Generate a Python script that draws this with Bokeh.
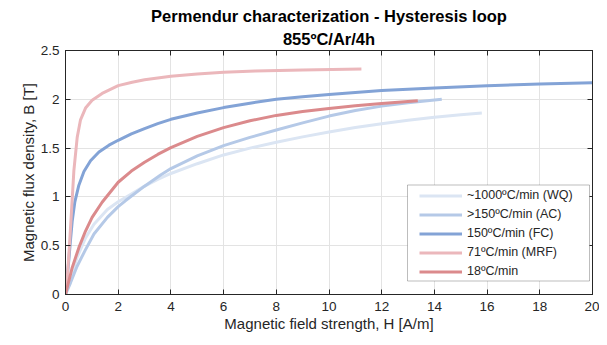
from bokeh.plotting import figure
from bokeh.models import Range1d, LinearAxis, Title, Legend, LegendItem, FixedTicker, BoxAnnotation
from bokeh.embed import file_html
from bokeh.resources import INLINE

# ---- data ----
h_wq = [0, 0.19, 0.44, 0.76, 1.08, 1.59, 2.0, 2.5, 3.0, 3.5, 4.0, 5.0, 6.0, 7.0, 8.0, 9.0, 10.0, 11.0, 12.0, 13.0, 14.0, 15.0, 15.8]
b_wq = [0, 0.17, 0.38, 0.58, 0.72, 0.87, 0.95, 1.03, 1.11, 1.18, 1.24, 1.34, 1.43, 1.50, 1.56, 1.615, 1.665, 1.71, 1.75, 1.785, 1.815, 1.842, 1.86]

h_ac = [0, 0.19, 0.44, 0.76, 1.08, 1.59, 2.0, 2.27, 3.0, 3.61, 4.0, 5.0, 6.0, 7.0, 8.0, 9.0, 10.0, 11.0, 12.0, 13.0, 14.28]
b_ac = [0, 0.12, 0.29, 0.46, 0.62, 0.79, 0.90, 0.96, 1.11, 1.225, 1.29, 1.42, 1.525, 1.61, 1.685, 1.758, 1.828, 1.885, 1.93, 1.965, 2.0]

h_fc = [0, 0.06, 0.128, 0.19, 0.254, 0.355, 0.507, 0.70, 0.95, 1.27, 1.65, 2.0, 2.5, 3.0, 3.5, 4.0, 5.0, 6.0, 7.0, 8.0, 9.0, 10.0, 12.0, 14.0, 16.0, 18.0, 20.0]
b_fc = [0, 0.17, 0.36, 0.56, 0.75, 0.95, 1.12, 1.26, 1.37, 1.46, 1.53, 1.58, 1.645, 1.70, 1.75, 1.795, 1.86, 1.915, 1.96, 2.0, 2.025, 2.05, 2.09, 2.115, 2.14, 2.157, 2.17]

h_mrf = [0, 0.08, 0.153, 0.229, 0.318, 0.444, 0.57, 0.76, 1.01, 1.39, 2.0, 2.53, 3.0, 4.0, 5.0, 6.0, 7.2, 9.0, 11.23]
b_mrf = [0, 0.22, 0.515, 0.86, 1.27, 1.61, 1.79, 1.91, 1.99, 2.06, 2.14, 2.175, 2.20, 2.237, 2.26, 2.276, 2.29, 2.30, 2.31]

h_18 = [0, 0.1, 0.254, 0.507, 0.76, 1.01, 1.39, 2.0, 2.5, 3.0, 3.5, 4.0, 5.0, 6.0, 7.0, 8.0, 9.0, 10.0, 11.0, 12.0, 13.37]
b_18 = [0, 0.11, 0.275, 0.48, 0.65, 0.79, 0.945, 1.15, 1.265, 1.355, 1.435, 1.505, 1.62, 1.71, 1.78, 1.835, 1.875, 1.905, 1.933, 1.957, 1.985]

labels = ["~1000ºC/min (WQ)", ">150ºC/min (AC)", "150ºC/min (FC)", "71ºC/min (MRF)", "18ºC/min"]
colors = ["#dbe5f3", "#b5c9e7", "#83a3d6", "#ebb7bb", "#db8a8c"]
series = [(h_wq, b_wq), (h_ac, b_ac), (h_fc, b_fc), (h_mrf, b_mrf), (h_18, b_18)]

x_ticks = [0, 2, 4, 6, 8, 10, 12, 14, 16, 18, 20]
y_ticks = [0, 0.5, 1, 1.5, 2, 2.5]

FONT = "Liberation Sans"
TXT = "#262626"

p = figure(width=599, height=337, output_backend="svg", toolbar_location=None,
           x_range=Range1d(0, 20), y_range=Range1d(0, 2.5),
           min_border_left=65, min_border_right=7, min_border_top=50, min_border_bottom=43)
p.title = None

p.xaxis.axis_label = "Magnetic field strength, H [A/m]"
p.yaxis.axis_label = "Magnetic flux density, B [T]"
for ax in (p.xaxis, p.yaxis):
    ax.axis_label_text_font = FONT
    ax.axis_label_text_font_size = "15px"
    ax.axis_label_text_font_style = "normal"
    ax.axis_label_text_color = TXT
    ax.major_label_text_font = FONT
    ax.major_label_text_font_size = "13.5px"
    ax.major_label_text_color = TXT
    ax.major_tick_in = 5
    ax.major_tick_out = 0
    ax.minor_tick_in = 0
    ax.minor_tick_out = 0
    ax.axis_line_color = TXT
    ax.major_tick_line_color = TXT
p.xaxis.ticker = FixedTicker(ticks=x_ticks)
p.yaxis.ticker = FixedTicker(ticks=y_ticks)
p.xaxis.axis_label_standoff = 1
p.yaxis.axis_label_standoff = 1
p.xaxis.major_label_standoff = 7
p.yaxis.major_label_standoff = 6

# top and right axes (ticks only)
top = LinearAxis(ticker=FixedTicker(ticks=x_ticks), major_label_text_font_size="0px",
                 major_tick_in=5, major_tick_out=0, minor_tick_in=0, minor_tick_out=0,
                 major_label_standoff=0, axis_line_color=TXT, major_tick_line_color=TXT)
right = LinearAxis(ticker=FixedTicker(ticks=y_ticks), major_label_text_font_size="0px",
                   major_tick_in=5, major_tick_out=0, minor_tick_in=0, minor_tick_out=0,
                   major_label_standoff=0, axis_line_color=TXT, major_tick_line_color=TXT)
p.add_layout(top, "above")
p.add_layout(right, "right")

p.add_layout(Title(text="855ºC/Ar/4h", align="center", text_font=FONT, text_font_size="16.5px",
                   text_font_style="bold", text_color="#000000", offset=0, standoff=5), "above")
p.add_layout(Title(text="Permendur characterization - Hysteresis loop", align="center", text_font=FONT,
                   text_font_size="16.5px", text_font_style="bold", text_color="#000000", standoff=1), "above")

p.xgrid.grid_line_color = "#e3e3e3"
p.ygrid.grid_line_color = "#e3e3e3"
p.outline_line_color = TXT
p.background_fill_color = "white"
p.border_fill_color = "white"

# legend frame (screen units, relative to plot frame)
box = BoxAnnotation(left=342, right=524, bottom=13.5, top=109.5,
                    left_units="screen", right_units="screen", top_units="screen", bottom_units="screen",
                    fill_color="white", fill_alpha=1.0, line_color=TXT, line_width=1, level="overlay")
p.add_layout(box)

items = []
for (hx, by), lab, col in zip(series, labels, colors):
    r = p.line(hx, by, line_color=col, line_width=3, line_join="round")
    items.append(LegendItem(label=lab, renderers=[r]))

legend = Legend(items=items, location=(354, 13.5), label_text_font=FONT, label_text_font_size="12.5px",
                label_text_color=TXT, glyph_width=43, glyph_height=19, label_height=19,
                spacing=0, padding=0, margin=0, label_standoff=5,
                border_line_color=None, background_fill_alpha=0.0)
p.add_layout(legend, "center")

open("out.html", "w").write(file_html(p, INLINE))
